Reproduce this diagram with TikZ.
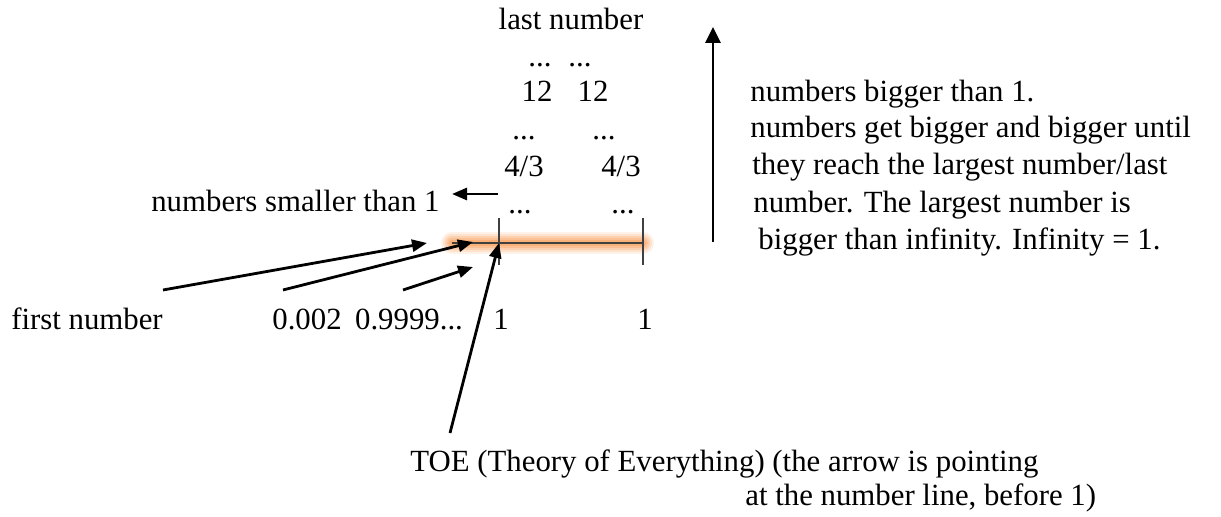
\documentclass[tikz,border=0pt]{standalone}
\usepackage{fontspec}
\setmainfont{Liberation Serif}
\usetikzlibrary{arrows.meta}
\definecolor{glowc}{RGB}{247,140,60}

\begin{document}
\begin{tikzpicture}[x=0.5pt, y=-0.5pt,
    lbl/.style={inner sep=0pt, anchor=base, font=\fontsize{15.4}{18}\selectfont},
    arr/.style={-{Triangle[length=7.5pt, width=6pt]}, line width=1.4pt},
    tick/.style={draw=black!75, line width=0.7pt}
  ]
  \useasboundingbox (0,0) rectangle (1221,517);

  % Number line with its glow
  \coordinate (lineL) at (452,243);
  \coordinate (one)   at (499,243);
  \coordinate (lineR) at (643,243);
  \foreach \w/\o in {11/0.12, 9/0.15, 7/0.2, 5/0.25, 3/0.3}
    \draw[glowc, line width=\w pt, opacity=\o, line cap=round] (lineL) -- (lineR);
  \draw[black!75, line width=0.9pt] (lineL) -- (lineR);
  \draw[tick] (499,218) -- (499,265);
  \draw[tick] (643,218) -- (643,265);

  % Nodes above the line
  \node[lbl] (last)  at (571,30)  {last number};
  \node[lbl] (dA1)   at (540,67)  {...};
  \node[lbl] (dA2)   at (580,67)  {...};
  \node[lbl] (twL)   at (537,102) {12};
  \node[lbl] (twR)   at (593,102) {12};
  \node[lbl] (dB1)   at (524,140) {...};
  \node[lbl] (dB2)   at (604,140) {...};
  \node[lbl] (fqL)   at (524,177) {4/3};
  \node[lbl] (fqR)   at (621,177) {4/3};
  \node[lbl] (dC1)   at (520,214) {...};
  \node[lbl] (dC2)   at (623,214) {...};
  \node[lbl, anchor=base east] (smaller) at (440,212) {numbers smaller than 1};

  % Nodes below the line
  \node[lbl] (first) at (87,330)  {first number};
  \node[lbl] (small) at (307,330) {0.002};
  \node[lbl] (nines) at (409,330) {0.9999...};
  \node[lbl] (oneL)  at (501,330) {1};
  \node[lbl] (oneR)  at (645,330) {1};
  \node[lbl, anchor=base west] (toe)  at (410,472) {TOE (Theory of Everything) (the arrow is pointing};
  \node[lbl, anchor=base west] (toeB) at (745,506) {at the number line, before 1)};

  % Text on the right
  \node[lbl, anchor=base west] (rA) at (750,102) {numbers bigger than 1.};
  \node[lbl, anchor=base west] (rB) at (750,138) {numbers get bigger and bigger until};
  \node[lbl, anchor=base west] (rC) at (752,175) {they reach the largest number/last};
  \node[lbl, anchor=base west] (rD) at (753,213) {number. The largest number is};
  \node[lbl, anchor=base west] (rE) at (758,250) {bigger than infinity. Infinity = 1.};

  % Arrows
  \coordinate (tipA) at (427,243);
  \coordinate (tipB) at (473,242);
  \coordinate (tipC) at (473,267);
  \coordinate (ltS)  at (498,194);
  \coordinate (ltE)  at (452,194);
  \coordinate (upS)  at (713,242);
  \coordinate (upE)  at (713,27);
  \draw[arr] ([shift={(76,-40)}]first.base) -- (tipA);
  \draw[arr] ([shift={(-24,-40)}]small.base) -- (tipB);
  \draw[arr] ([shift={(-6,-40)}]nines.base) -- (tipC);
  \draw[arr] ([shift={(40,-39)}]toe.base west) -- (one);
  \draw[arr] (ltS) -- (ltE);
  \draw[arr, -{Triangle[length=8pt, width=7.5pt]}] (upS) -- (upE);
\end{tikzpicture}
\end{document}
